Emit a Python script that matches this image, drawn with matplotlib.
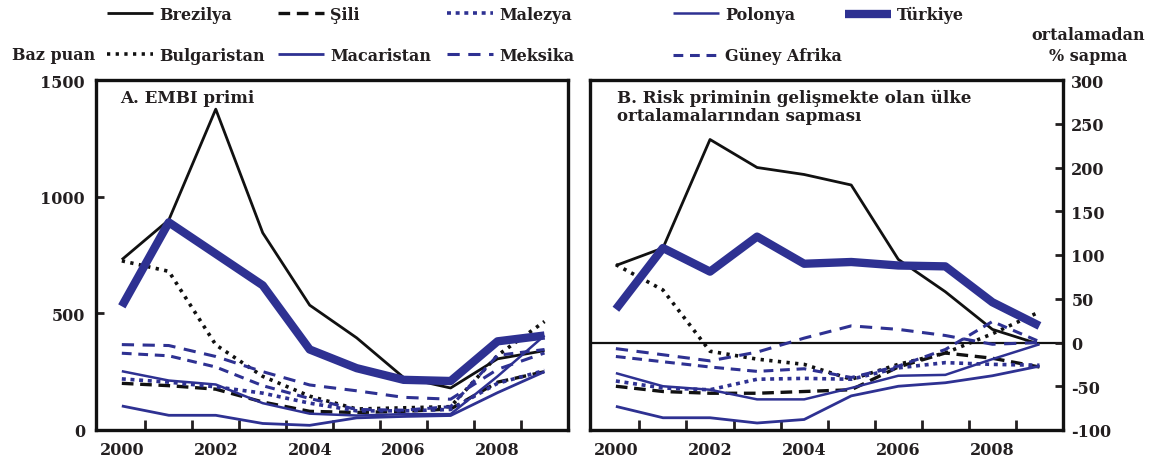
import numpy as np
import matplotlib
matplotlib.use("Agg")
import matplotlib.pyplot as plt

plt.rcParams.update(
    {
        "font.family": "DejaVu Serif",
        "font.weight": "bold",
        "font.size": 11.5,
        "text.color": "#231f20",
        "xtick.color": "#231f20",
        "ytick.color": "#231f20",
        "axes.unicode_minus": False,
    }
)

years = np.arange(2000, 2010)
year_labels = ["2000", "2002", "2004", "2006", "2008"]

# A. EMBI primi (baz puan)
brezilya_l = [730, 900, 1375, 845, 535, 395, 225, 180, 305, 340]
bulgaristan_l = [725, 680, 365, 230, 145, 90, 95, 100, 320, 465]
sili_l = [200, 190, 175, 120, 80, 75, 80, 90, 205, 250]
macaristan_l = [103, 63, 63, 28, 20, 52, 58, 62, 160, 250]
malezya_l = [219, 205, 185, 158, 115, 82, 82, 88, 200, 255]
meksika_l = [366, 362, 315, 250, 193, 168, 140, 132, 260, 330]
polonya_l = [252, 212, 195, 115, 70, 62, 68, 68, 230, 405]
guney_afrika_l = [329, 318, 270, 190, 135, 88, 85, 100, 320, 345]
turkiye_l = [530, 890, 755, 620, 345, 265, 215, 210, 380, 405]

# B. ortalamadan % sapma
brezilya_r = [88, 108, 232, 200, 192, 180, 95, 58, 15, -2]
bulgaristan_r = [89, 60, -10, -19, -25, -42, -25, -12, 10, 35]
sili_r = [-50, -56, -58, -58, -56, -54, -28, -12, -18, -28]
macaristan_r = [-73, -86, -86, -92, -88, -61, -50, -46, -38, -27]
malezya_r = [-44, -52, -54, -42, -41, -42, -29, -23, -25, -26]
meksika_r = [-7, -14, -21, -11, 5, 19, 15, 8, -2, 0]
polonya_r = [-35, -50, -54, -65, -65, -52, -38, -37, -19, -2]
guney_afrika_r = [-16, -22, -28, -33, -30, -40, -27, -8, 24, 1]
turkiye_r = [38, 108, 81, 121, 90, 92, 88, 87, 46, 19]

black = "#111111"
blue = "#2e3192"

styles = {
    "Brezilya": dict(color=black, lw=2.0, ls="-"),
    "Bulgaristan": dict(color=black, lw=2.6, ls=(0, (0.9, 1.5))),
    "Şili": dict(color=black, lw=2.4, ls=(0, (3.5, 2.0))),
    "Macaristan": dict(color=blue, lw=2.0, ls="-"),
    "Malezya": dict(color=blue, lw=2.6, ls=(0, (1.1, 1.3))),
    "Meksika": dict(color=blue, lw=2.2, ls=(0, (4.0, 2.8))),
    "Polonya": dict(color=blue, lw=1.8, ls="-"),
    "Güney Afrika": dict(color=blue, lw=2.2, ls=(0, (3.2, 2.2))),
    "Türkiye": dict(color=blue, lw=6.0, ls="-"),
}

left_data = {
    "Brezilya": brezilya_l, "Bulgaristan": bulgaristan_l, "Şili": sili_l,
    "Macaristan": macaristan_l, "Malezya": malezya_l, "Meksika": meksika_l,
    "Polonya": polonya_l, "Güney Afrika": guney_afrika_l, "Türkiye": turkiye_l,
}
right_data = {
    "Brezilya": brezilya_r, "Bulgaristan": bulgaristan_r, "Şili": sili_r,
    "Macaristan": macaristan_r, "Malezya": malezya_r, "Meksika": meksika_r,
    "Polonya": polonya_r, "Güney Afrika": guney_afrika_r, "Türkiye": turkiye_r,
}

fig = plt.figure(figsize=(11.52, 4.64), dpi=100)
ax1 = fig.add_axes([96 / 1152, 33 / 464, 472 / 1152, 350 / 464])
ax2 = fig.add_axes([590 / 1152, 33 / 464, 473 / 1152, 350 / 464])

handles = {}
for name, vals in left_data.items():
    (h,) = ax1.plot(years, vals, solid_capstyle="butt", **styles[name])
    handles[name] = h
for name, vals in right_data.items():
    ax2.plot(years, vals, solid_capstyle="butt", **styles[name])
ax2.axhline(0, color=black, lw=1.6, zorder=0.5)

for ax in (ax1, ax2):
    ax.set_xlim(1999.45, 2009.5)
    ax.set_xticks(np.arange(2000.5, 2009, 1.0))
    ax.set_xticklabels([])
    ax.set_xticks([2000, 2002, 2004, 2006, 2008], minor=True)
    ax.set_xticklabels(year_labels, minor=True)
    ax.tick_params(axis="x", which="major", direction="in", length=7, width=2)
    ax.tick_params(axis="x", which="minor", length=0, pad=8, labelsize=11.5)
    for s in ax.spines.values():
        s.set_linewidth(2.4)
        s.set_color(black)

ax1.set_ylim(0, 1500)
ax1.set_yticks([0, 500, 1000, 1500])
ax1.tick_params(axis="y", direction="in", length=6, width=2, pad=8)

ax2.set_ylim(-100, 300)
ax2.set_yticks(np.arange(-100, 301, 50))
ax2.yaxis.tick_right()
ax2.tick_params(axis="y", direction="in", length=6, width=2, pad=6)

ax1.text(0.052, 0.975, "A. EMBI primi", transform=ax1.transAxes,
         va="top", ha="left", fontsize=12)
ax2.text(0.057, 0.975, "B. Risk priminin gelişmekte olan ülke\nortalamalarından sapması",
         transform=ax2.transAxes, va="top", ha="left", fontsize=12, linespacing=1.1)

columns = [
    (107, ["Brezilya", "Bulgaristan"]),
    (278, ["Şili", "Macaristan"]),
    (447, ["Malezya", "Meksika"]),
    (673, ["Polonya", "Güney Afrika"]),
    (845, ["Türkiye"]),
]
for x, names in columns:
    fig.legend([handles[n] for n in names], names, loc="upper left",
               bbox_to_anchor=(x / 1152, 1 - 7 / 464), frameon=False,
               borderpad=0, borderaxespad=0, handlelength=2.9,
               handletextpad=0.35, labelspacing=1.5, fontsize=11.5)

fig.text(12 / 1152, 1 - 55 / 464, "Baz puan", ha="left", va="center", fontsize=11.5)
fig.text(1088 / 1152, 1 - 46 / 464, "ortalamadan\n% sapma", ha="center",
         va="center", fontsize=11.5, linespacing=1.35)

fig.savefig("out.png", dpi=100)
